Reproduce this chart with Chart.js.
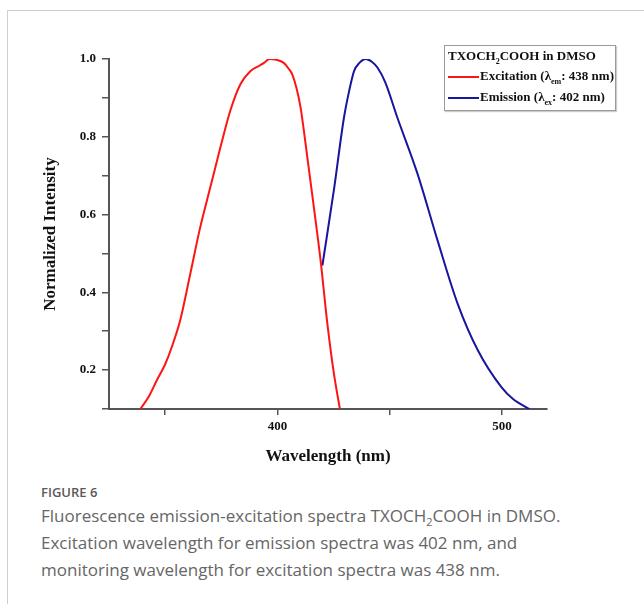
<!DOCTYPE html>
<html>
<head>
<meta charset="utf-8">
<script src="https://cdn.jsdelivr.net/npm/chart.js@4"></script>
<style>
  html, body { margin: 0; padding: 0; background: #fff; }
  #frame { position: absolute; left: 7px; top: 10px; width: 644px; height: 600px;
           border-top: 1px solid #cfcfcf; border-left: 1px solid #cfcfcf; }
  #wrap { position: absolute; left: 0; top: 0; width: 644px; height: 480px; }
  #legend { position: absolute; left: 444px; top: 45px; width: 170px; height: 64px;
            border: 1px solid #9a9a9a; box-shadow: 1px 1px 1px #ccc; background: #fff;
            font-family: "Liberation Serif", serif; font-weight: bold; font-size: 13px; color: #111; }
  #legend .title { position: absolute; left: 3px; top: 2px; white-space: nowrap; }
  #legend .item { position: absolute; left: 3px; white-space: nowrap; }
  #legend .swatch { display: inline-block; width: 31px; height: 2px; vertical-align: middle; margin-right: 1px; }
  #legend sub { font-size: 8px; line-height: 0; }
  #caption { position: absolute; left: 41px; top: 482px; font-family: "Open Sans", sans-serif; color: #666; }
  #caption .fig { font-size: 13px; font-weight: 600; color: #5a5a5a; line-height: 20px; }
  #caption .txt { font-size: 17px; line-height: 27px; }
  #caption sub { font-size: 11px; line-height: 0; }
</style>
</head>
<body>
<div id="frame"></div>
<div id="wrap"><canvas id="chart" width="644" height="480"></canvas></div>
<div id="legend"></div>
<div id="caption">
  <div class="fig">FIGURE 6</div>
  <div class="txt">Fluorescence emission-excitation spectra TXOCH<sub>2</sub>COOH in DMSO.<br>Excitation wavelength for emission spectra was 402 nm, and<br>monitoring wavelength for excitation spectra was 438 nm.</div>
</div>
<script>
const excitationWavelength = [339, 343, 346.3, 350, 353, 356.7, 361.2, 365.6, 370.1, 374.6, 379, 383.5, 388, 391.7, 394, 396.5, 399.5, 402.8, 405, 406.6, 408.5, 410.3, 413.3, 416.2, 419.2, 422.2, 425.1, 427.8];
const excitationIntensity  = [0.10, 0.135, 0.174, 0.215, 0.26, 0.328, 0.448, 0.567, 0.67, 0.773, 0.867, 0.935, 0.969, 0.982, 0.99, 1.0, 0.998, 0.99, 0.975, 0.96, 0.925, 0.875, 0.747, 0.619, 0.482, 0.32, 0.192, 0.10];

const emissionWavelength = [420, 425.1, 429.6, 432, 434.1, 436.5, 439.3, 442, 444.5, 448, 453.4, 462.4, 471.3, 480.2, 489.2, 499.6, 505, 512.2];
const emissionIntensity  = [0.469, 0.662, 0.849, 0.92, 0.969, 0.99, 1.0, 0.993, 0.978, 0.94, 0.849, 0.704, 0.533, 0.371, 0.251, 0.157, 0.125, 0.10];

const xTickValues = [350, 400, 450, 500];
const xTickLabels = ['', '400', '', '500'];
const yTickValues = [0.1, 0.2, 0.3, 0.4, 0.5, 0.6, 0.7, 0.8, 0.9, 1.0];
const yTickLabels = ['', '0.2', '', '0.4', '', '0.6', '', '0.8', '', '1.0'];

const legendTitle = 'TXOCH<sub>2</sub>COOH in DMSO';
const legendNames = ['Excitation', 'Emission'];
const legendSubs = ['em', 'ex'];
const legendValues = ['438 nm', '402 nm'];

const toPoints = (xs, ys) => xs.map((x, i) => ({ x: x, y: ys[i] }));

const axisFont = { family: 'Liberation Serif', weight: 'bold', size: 13 };
const titleFont = { family: 'Liberation Serif', weight: 'bold', size: 17 };

const chart = new Chart(document.getElementById('chart').getContext('2d'), {
    type: 'line',
    data: {
        datasets: [{
            label: 'Excitation',
            data: toPoints(excitationWavelength, excitationIntensity),
            borderColor: '#ff1414',
            borderWidth: 2,
            pointRadius: 0,
            cubicInterpolationMode: 'monotone'
        }, {
            label: 'Emission',
            data: toPoints(emissionWavelength, emissionIntensity),
            borderColor: '#16169e',
            borderWidth: 2,
            pointRadius: 0,
            cubicInterpolationMode: 'monotone'
        }]
    },
    options: {
        responsive: false,
        animation: false,
        layout: { padding: { top: 59, right: 97, left: 0, bottom: 0 } },
        scales: {
            x: {
                type: 'linear',
                min: 325,
                max: 520,
                afterFit: (scale) => { scale.height = 71; },
                afterBuildTicks: (axis) => { axis.ticks = xTickValues.map(v => ({ value: v })); },
                ticks: {
                    color: '#111',
                    font: axisFont,
                    padding: 4,
                    maxRotation: 0,
                    autoSkip: false,
                    callback: (v, i) => xTickLabels[i]
                },
                grid: { drawOnChartArea: false, drawTicks: true, tickLength: 6, color: '#555', lineWidth: 1.5 },
                border: { display: true, color: '#555', width: 2 },
                title: { display: true, text: 'Wavelength (nm)', color: '#111', font: titleFont, padding: { top: 0, bottom: 13 } }
            },
            y: {
                min: 0.1,
                max: 1.0,
                afterFit: (scale) => { scale.width = 109; },
                afterBuildTicks: (axis) => { axis.ticks = yTickValues.map(v => ({ value: v })); },
                ticks: {
                    color: '#111',
                    font: axisFont,
                    padding: 6,
                    autoSkip: false,
                    callback: (v, i) => yTickLabels[i]
                },
                grid: { drawOnChartArea: false, drawTicks: true, tickLength: 7, color: '#555', lineWidth: 1.5 },
                border: { display: true, color: '#555', width: 2 },
                title: { display: true, text: 'Normalized Intensity', color: '#111', font: titleFont, padding: { top: 40, bottom: 0 } }
            }
        },
        plugins: {
            legend: { display: false },
            tooltip: { enabled: false }
        }
    }
});

// HTML legend so the subscripts stay real text
const legendEl = document.getElementById('legend');
let html = '<div class="title">' + legendTitle + '</div>';
chart.data.datasets.forEach((ds, i) => {
    html += '<div class="item" style="top:' + (22 + i * 21) + 'px">' +
        '<span class="swatch" style="background:' + ds.borderColor + '"></span>' +
        legendNames[i] + ' (&lambda;<sub>' + legendSubs[i] + '</sub>: ' + legendValues[i] + ')</div>';
});
legendEl.innerHTML = html;
</script>
</body>
</html>
